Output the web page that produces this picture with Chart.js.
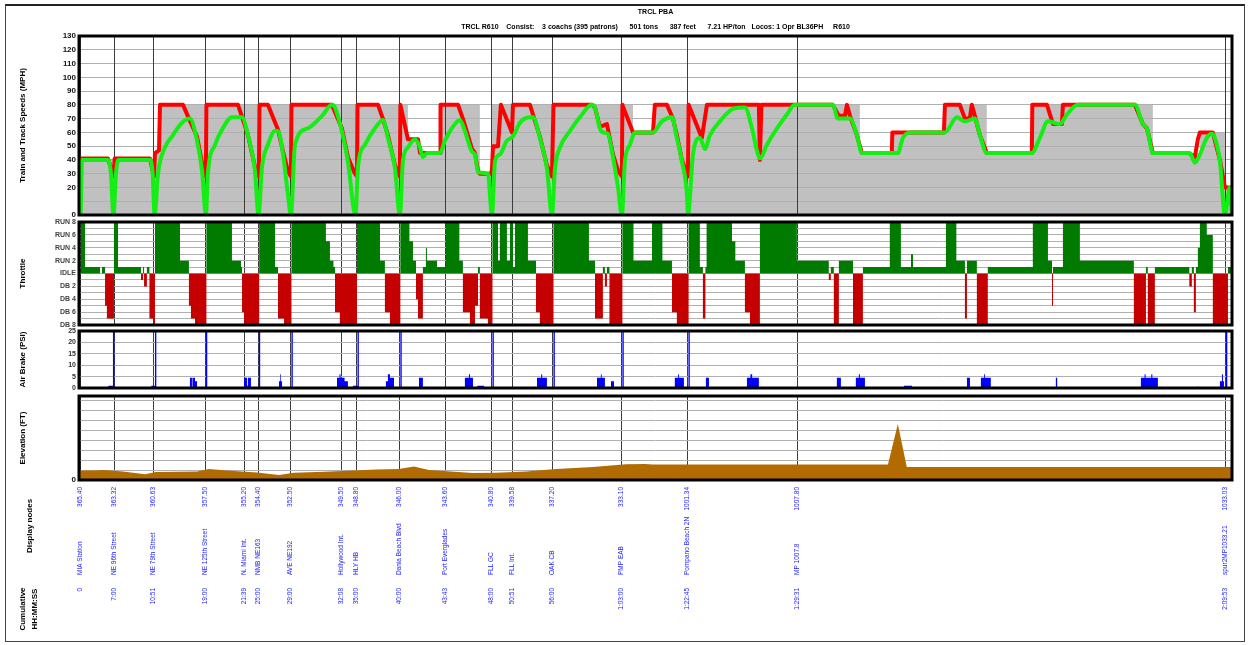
<!DOCTYPE html>
<html>
<head>
<meta charset="utf-8">
<script src="https://cdn.jsdelivr.net/npm/chart.js@4.4.1/dist/chart.umd.min.js"></script>
<style>
html,body{margin:0;padding:0;background:#fff;}
#wrap{position:relative;width:1251px;height:645px;overflow:hidden;background:#fff;}
#wrap canvas{position:absolute;left:0;top:0;}
#frame{position:absolute;left:5px;top:4px;width:1240px;height:638px;border:1px solid #444;border-top:2px solid #222;box-sizing:border-box;}
</style>
</head>
<body>
<div id="wrap">
  <div id="frame"></div>
  <canvas id="cSpeed" width="1251" height="645"></canvas>
  <canvas id="cThrottle" width="1251" height="645"></canvas>
  <canvas id="cAir" width="1251" height="645"></canvas>
  <canvas id="cElev" width="1251" height="645"></canvas>
</div>
<script>
// ---------------- DATA ----------------
const chartTitle = 'TRCL PBA';
const chartSubtitle = 'TRCL R610    Consist:    3 coachs (395 patrons)      501 tons      387 feet      7.21 HP/ton   Locos: 1 Opr BL36PH     R610';

// display nodes: cumulative distance (miles), milepost, name, cumulative time
const nodeMiles = [0, 2.04, 4.36, 7.45, 9.77, 10.60, 12.51, 15.54, 16.44, 18.99, 21.73, 24.47, 25.72, 28.10, 32.20, 36.13, 42.67, 68.14];
const nodeMileposts = ['365.40','363.32','360.63','357.50','355.20','354.40','352.50','349.50','348.80','346.00','343.60','340.80','339.58','337.20','333.10','1001.34','1007.80','1033.03'];
const nodeNames = ['MIA Station','NE 96th Street','NE 79th Street','NE 125th Street','N. Miami Int.','NMB NE163','AVE NE192','Hollywood Int.','HLY HB','Dania Beach Blvd','Port Everglades','FLL GC','FLL Int.','OAK CB','PMP EAB','Pompano Beach 2N','MP 1007.8','spur2MP1033.21'];
const nodeTimes = ['0','7:00','10:51','19:00','21:39','25:00','29:00','32:08','35:00','40:00','43:43','48:00','50:51','56:00','1:03:00','1:22:45','1:29:31','2:09:53'];

// track speed limit [mile, mph] (holds until next point)
const trackSpeed = [[-0.1,40],[4.42,45],[4.72,80],[19.47,55],[20.19,45],[21.38,80],[23.75,30],[24.47,80],[32.86,60],[34.05,80],[46.36,45],[48.26,60],[51.42,80],[53.91,45],[56.59,80],[63.79,45],[66.59,60],[68.08,20],[68.5,20]];

// target (red) speed [mile, mph]
const targetSpeed = [[0,41],[1.62,41],[1.98,28],[2.02,41],[4.12,41],[4.36,28],[4.42,45],[4.66,47],[4.72,80],[6.09,80],[6.44,70],[6.92,57],[7.22,38],[7.45,28],[7.48,80],[9.36,80],[9.77,65],[9.95,58],[10.37,35],[10.60,28],[10.64,80],[11.14,80],[11.74,62],[12.04,46],[12.33,32],[12.51,28],[12.54,80],[14.95,80],[15.54,63],[15.90,42],[16.32,30],[16.44,28],[16.47,80],[17.69,80],[17.98,70],[18.28,58],[18.70,36],[18.99,28],[19.02,80],[19.47,55],[20.07,55],[20.19,45],[21.38,45],[21.41,80],[22.45,80],[22.74,70],[23.28,48],[23.46,45],[23.64,32],[23.75,30],[24.41,30],[24.47,33],[24.53,50],[24.83,50],[25.00,80],[25.66,60],[25.72,80],[26.73,80],[27.32,57],[27.74,36],[28.04,28],[28.13,80],[30.42,80],[30.60,78],[30.89,64],[31.31,66],[31.67,44],[31.97,32],[32.20,28],[32.23,80],[32.86,60],[34.05,60],[34.16,80],[34.88,80],[35.24,70],[35.47,58],[35.77,40],[36.13,28],[36.17,80],[36.96,56],[37.26,80],[40.35,80],[40.41,40],[40.50,80],[44.75,80],[45.11,72],[45.47,72],[45.59,80],[45.77,72],[46.18,58],[46.48,45],[48.26,45],[48.29,60],[51.36,60],[51.42,80],[52.31,80],[52.61,70],[52.90,70],[53.02,80],[53.20,72],[53.50,58],[53.91,45],[56.59,45],[56.62,80],[57.49,80],[57.85,66],[58.38,66],[58.44,80],[62.72,80],[63.20,66],[63.44,63],[63.79,45],[65.93,45],[66.29,42],[66.47,55],[66.59,60],[67.36,60],[67.78,40],[68.08,20],[68.49,20]];

// train (green) speed [mile, mph]
const trainSpeed = [[0,0],[0.08,40],[1.62,40],[1.80,30],[1.95,0],[2.10,30],[2.25,40],[4.12,40],[4.28,30],[4.40,0],[4.60,30],[5.01,49],[5.43,57],[6.03,67],[6.50,70],[6.92,54],[7.22,32],[7.45,0],[7.57,30],[7.99,51],[8.41,62],[9.00,71],[9.60,71],[9.95,58],[10.37,32],[10.58,0],[10.79,35],[11.14,51],[11.56,61],[11.74,61],[12.04,44],[12.33,15],[12.51,0],[12.75,51],[13.52,63],[14.36,72],[14.95,80],[15.13,78],[15.54,61],[15.90,39],[16.35,0],[16.50,35],[16.91,51],[17.51,63],[17.98,69],[18.28,56],[18.70,34],[18.99,0],[19.17,39],[19.47,49],[19.89,55],[20.19,49],[20.36,42],[20.60,45],[21.38,45],[21.67,54],[22.09,63],[22.56,69],[22.86,61],[23.28,46],[23.46,44],[23.64,31],[24.23,30],[24.47,0],[24.65,39],[24.94,44],[25.36,54],[25.72,57],[26.13,67],[26.73,71],[26.91,71],[27.32,56],[27.74,34],[28.04,0],[28.22,34],[28.51,49],[29.11,61],[29.70,71],[30.42,80],[30.60,78],[30.89,63],[31.07,60],[31.37,59],[31.67,42],[31.97,20],[32.20,0],[32.38,39],[32.68,51],[32.98,60],[34.05,60],[34.58,68],[35.18,71],[35.47,56],[35.77,39],[36.07,15],[36.13,0],[36.43,44],[36.84,56],[37.14,48],[37.44,58],[38.03,68],[38.81,77],[39.52,78],[39.94,63],[40.23,47],[40.41,41],[40.83,51],[41.43,63],[42.02,73],[42.49,80],[44.75,80],[45.05,70],[45.77,70],[46.18,58],[46.48,45],[48.62,45],[48.92,56],[49.34,60],[51.42,60],[52.13,71],[52.61,68],[53.20,70],[53.50,58],[53.91,45],[56.59,45],[57.07,56],[57.55,68],[58.26,66],[58.68,73],[59.33,80],[62.72,80],[63.20,66],[63.44,63],[63.79,45],[65.99,45],[66.29,38],[66.59,44],[67.00,56],[67.30,59],[67.48,56],[67.78,39],[68.08,0],[68.37,20],[68.49,0]];

// throttle notch [mile, notch] (+ run, 1 = idle, - dynamic brake), holds until next point
const throttle = [[0,8],[0.26,1],[1.15,0],[1.27,1],[1.45,-5],[1.56,-7],[1.98,8],[2.22,1],[3.59,-1],[3.71,1],[3.77,-2],[3.94,1],[4.09,-7],[4.30,-8],[4.42,8],[5.91,2],[6.44,-5],[6.56,-7],[6.80,-8],[7.48,8],[9.00,2],[9.54,1],[9.60,-6],[9.72,-8],[10.62,8],[11.56,1],[11.74,-7],[12.10,-8],[12.54,8],[14.59,5],[14.83,2],[15.04,1],[15.13,-6],[15.42,-8],[16.44,8],[17.81,2],[18.10,-6],[18.40,-8],[19.02,8],[19.56,5],[19.77,2],[19.95,-4],[20.07,-7],[20.36,1],[20.54,4],[20.60,2],[21.20,1],[21.73,8],[22.53,2],[22.74,-6],[23.16,-8],[23.46,-5],[23.64,1],[23.75,-7],[24.23,-8],[24.50,8],[24.83,2],[24.94,8],[25.36,2],[25.54,8],[25.72,1],[25.84,8],[26.61,2],[27.09,-6],[27.32,-8],[28.13,8],[30.24,2],[30.60,-7],[31.07,1],[31.19,-2],[31.31,1],[31.46,-8],[32.23,8],[32.89,2],[33.99,8],[34.61,2],[35.18,-6],[35.47,-8],[36.17,8],[36.84,1],[37.02,-7],[37.17,1],[37.24,8],[38.75,5],[38.95,2],[39.52,-6],[39.82,-8],[40.41,8],[42.61,2],[44.51,-1],[44.63,1],[44.81,-8],[45.11,2],[45.95,-8],[46.54,1],[48.14,8],[48.80,1],[49.40,3],[49.52,1],[51.48,8],[52.10,2],[52.61,-7],[52.73,2],[53.32,-8],[53.97,1],[56.65,8],[57.55,2],[57.79,-5],[57.85,1],[58.44,8],[59.45,2],[62.66,-8],[63.38,1],[63.49,-8],[63.91,1],[65.96,-2],[66.11,1],[66.23,-6],[66.35,1],[66.47,4],[66.59,8],[67.00,6],[67.36,-8],[68.26,1],[68.5,1]];

// air brake pressure [mile, psi], holds until next point
const airBrake = [[-0.1,0],[1.65,1],[1.92,25],[2.00,0],[4.20,1],[4.42,25],[4.50,0],[6.50,4.5],[6.62,0],[6.65,4.5],[6.80,3],[6.92,0],[7.45,25],[7.53,0],[9.72,4.5],[9.90,1],[9.95,4.5],[10.13,0],[10.60,25],[10.68,0],[11.80,3],[11.86,6],[11.90,3],[11.98,0],[12.54,25],[12.62,0],[15.25,4.5],[15.40,6],[15.46,4.5],[15.70,3],[15.90,0],[16.20,1],[16.47,25],[16.55,0],[18.16,3],[18.28,6],[18.40,4.5],[18.64,0],[19.02,25],[19.10,0],[20.13,4.5],[20.36,0],[22.86,4.5],[23.10,6],[23.16,4.5],[23.34,0],[23.60,1],[24.00,0],[24.50,25],[24.58,0],[27.15,4.5],[27.40,6],[27.46,4.5],[27.74,0],[28.13,25],[28.21,0],[30.72,4.5],[30.95,6],[31.00,4.5],[31.19,0],[31.55,3],[31.73,0],[32.23,25],[32.31,0],[35.35,4.5],[35.55,6],[35.60,4.5],[35.89,0],[36.16,25],[36.24,0],[37.20,4.5],[37.38,0],[39.64,4.5],[39.85,6],[39.95,4.5],[40.35,0],[44.99,4.5],[45.23,0],[46.12,4.5],[46.30,6],[46.36,4.5],[46.66,0],[48.98,1],[49.46,0],[52.73,4.5],[52.91,0],[53.56,4.5],[53.75,6],[53.80,4.5],[54.15,0],[58.02,4.5],[58.10,0],[63.08,4.5],[63.30,6],[63.36,4.5],[63.70,6],[63.76,4.5],[64.09,0],[66.41,0.5],[66.50,0],[67.78,3],[67.90,6],[67.96,3],[68.02,0],[68.14,25],[68.22,0],[68.5,0]];

// elevation [mile, ft]
const elevation = [[-0.1,9.4],[0.73,9.4],[1.39,10],[2.52,8.6],[3.83,5.8],[4.48,8],[6.92,8.6],[7.63,11],[8.70,9.4],[10.49,7.6],[11.80,5],[12.69,7.2],[14.47,8.3],[16.26,9.4],[17.57,10.4],[18.93,11],[19.83,13.6],[20.72,10],[22.03,8.6],[23.34,6.9],[24.71,7.2],[26.49,8.6],[28.28,11],[30.48,12.9],[32.44,15.7],[33.57,16],[34.05,15.4],[48.03,15.4],[48.62,56],[49.15,13],[68.5,13]];

// axis ticks and labels
const speedTicks = [0,10,20,30,40,50,60,70,80,90,100,110,120,130];
const speedHiddenTicks = [10];
const throttleTicks = [-8,-7,-6,-5,-4,-3,-2,-1,0,1,2,3,4,5,6,7,8];
const throttleTickLabels = ['DB 8','','DB 6','','DB 4','','DB 2','','IDLE','','RUN 2','','RUN 4','','RUN 6','','RUN 8'];
const airTicks = [0,5,10,15,20,25];
const elevTicks = [0,10,20,30,40,50,60,70,80];
const elevTickLabels = ['0','','','','','','','',''];

// ---------------- CHARTS ----------------
const FONT = "'Liberation Sans', Arial, Helvetica, sans-serif";
Chart.defaults.font.family = FONT;
const X_MIN = -0.1, X_MAX = 68.5;

function xScale(z) {
  return {
    type: 'linear', min: X_MIN, max: X_MAX, z: z,
    afterBuildTicks: s => { s.ticks = nodeMiles.map(v => ({ value: v })); },
    afterFit: s => { s.height = 0; },
    ticks: { display: false },
    border: { display: false },
    grid: { color: '#3c3c3c', lineWidth: 1, drawTicks: false }
  };
}
function yScale(o) {
  return {
    type: 'linear', min: o.min, max: o.max, z: o.z,
    afterBuildTicks: s => { s.ticks = o.ticks.map(v => ({ value: v })); },
    afterFit: s => { s.width = 79; },
    border: { display: false },
    grid: { color: '#b0b0b0', lineWidth: 1, drawTicks: false },
    ticks: { autoSkip: false, padding: 3, color: o.tickColor || '#111',
             font: { size: o.tickSize || 8, weight: 'bold' }, callback: o.label },
    title: { display: true, text: o.title, color: '#000',
             font: { size: 8, weight: 'bold' }, padding: { top: 18, bottom: 0 } }
  };
}
function baseOptions(top, bottom, y, z) {
  return {
    responsive: false, maintainAspectRatio: false, animation: false, devicePixelRatio: 1, events: [],
    layout: { padding: { left: 0, right: 19, top: top, bottom: bottom } },
    plugins: { legend: { display: false }, tooltip: { enabled: false } },
    elements: { point: { radius: 0 } },
    scales: { x: xScale(z), y: y }
  };
}
const framePlugin = {
  id: 'frame',
  afterDraw(chart) {
    const a = chart.chartArea, ctx = chart.ctx;
    ctx.save(); ctx.strokeStyle = '#000'; ctx.lineWidth = 3;
    ctx.strokeRect(a.left, a.top, a.right - a.left, a.bottom - a.top);
    ctx.restore();
  }
};
const gridOverTrack = {
  id: 'gridOverTrack',
  afterDatasetDraw(chart, args) {
    if (args.index === 2) {
      chart.scales.y.drawGrid(chart.chartArea);
      chart.scales.x.drawGrid(chart.chartArea);
    }
  }
};
function rotText(ctx, text, x, y, align) {
  ctx.save(); ctx.translate(x, y); ctx.rotate(-Math.PI / 2);
  ctx.textAlign = align; ctx.textBaseline = 'middle'; ctx.fillText(text, 0, 0); ctx.restore();
}
const nodeLabels = {
  id: 'nodeLabels',
  afterDraw(chart) {
    const ctx = chart.ctx, xs = chart.scales.x;
    ctx.save();
    ctx.fillStyle = '#1a1aff';
    ctx.font = '6.5px ' + FONT;
    nodeMiles.forEach((m, i) => {
      const px = Math.round(xs.getPixelForValue(m)) - 1;
      rotText(ctx, nodeMileposts[i], px, 487, 'right');
      rotText(ctx, nodeNames[i], px, 575, 'left');
      rotText(ctx, nodeTimes[i], px, 588, 'right');
    });
    ctx.fillStyle = '#000';
    ctx.font = 'bold 8px ' + FONT;
    rotText(ctx, 'Display nodes', 30, 526, 'center');
    rotText(ctx, 'Cumulative', 23, 609, 'center');
    rotText(ctx, 'HH:MM:SS', 35, 609, 'center');
    ctx.restore();
  }
};

// Speed chart
const speedOpts = baseOptions(0, 430, yScale({
  min: 0, max: 130, z: 0, ticks: speedTicks, title: 'Train and Track Speeds (MPH)',
  label: v => speedHiddenTicks.includes(v) ? '' : String(v)
}), 0);
speedOpts.plugins.title = { display: true, text: chartTitle, fullSize: false, color: '#000',
  font: { size: 7, weight: 'bold' }, padding: { top: 7.6, bottom: 0 } };
speedOpts.plugins.subtitle = { display: true, text: chartSubtitle, fullSize: false, color: '#000',
  font: { size: 7, weight: 'bold' }, padding: { top: 6.8, bottom: 4.8 } };
new Chart(document.getElementById('cSpeed'), {
  type: 'line',
  data: { datasets: [
    { label: 'Train speed', data: trainSpeed, borderColor: '#14ee14', borderWidth: 4,
      borderJoinStyle: 'round', borderCapStyle: 'round',
      cubicInterpolationMode: 'monotone', fill: false, pointRadius: 0 },
    { label: 'Target speed', data: targetSpeed, borderColor: '#ff0000', borderWidth: 4,
      borderJoinStyle: 'round', borderCapStyle: 'round',
      tension: 0, fill: false, pointRadius: 0 },
    { label: 'Track speed', data: trackSpeed, borderWidth: 0, borderColor: 'rgba(0,0,0,0)',
      backgroundColor: '#c0c0c0', stepped: true, fill: 'origin', pointRadius: 0 }
  ]},
  options: speedOpts,
  plugins: [gridOverTrack, framePlugin]
});

// Throttle chart
new Chart(document.getElementById('cThrottle'), {
  type: 'line',
  data: { datasets: [
    { label: 'Throttle', data: throttle, borderWidth: 0, borderColor: 'rgba(0,0,0,0)', stepped: true,
      fill: { target: 'origin', above: '#007b00', below: '#c40000' }, pointRadius: 0 }
  ]},
  options: baseOptions(222, 320, yScale({
    min: -8, max: 8, z: 1, ticks: throttleTicks, title: 'Throttle', tickSize: 7, tickColor: '#444',
    label: v => throttleTickLabels[throttleTicks.indexOf(v)]
  }), 1),
  plugins: [framePlugin]
});

// Air brake chart
new Chart(document.getElementById('cAir'), {
  type: 'line',
  data: { datasets: [
    { label: 'Air brake', data: airBrake, borderWidth: 0, borderColor: 'rgba(0,0,0,0)', stepped: true,
      fill: 'origin', backgroundColor: '#0000ff', pointRadius: 0 }
  ]},
  options: baseOptions(331, 257, yScale({
    min: 0, max: 25, z: 1, ticks: airTicks, title: 'Air Brake (PSI)', tickSize: 7, tickColor: '#333',
    label: v => String(v)
  }), 1),
  plugins: [framePlugin]
});

// Elevation chart (+ display nodes)
new Chart(document.getElementById('cElev'), {
  type: 'line',
  data: { datasets: [
    { label: 'Elevation', data: elevation, borderWidth: 0, borderColor: 'rgba(0,0,0,0)', tension: 0,
      fill: 'origin', backgroundColor: '#b26b00', pointRadius: 0 }
  ]},
  options: baseOptions(396, 165, yScale({
    min: 0, max: 84, z: 1, ticks: elevTicks, title: 'Elevation (FT)',
    label: v => elevTickLabels[elevTicks.indexOf(v)]
  }), 1),
  plugins: [framePlugin, nodeLabels]
});
</script>
</body>
</html>
